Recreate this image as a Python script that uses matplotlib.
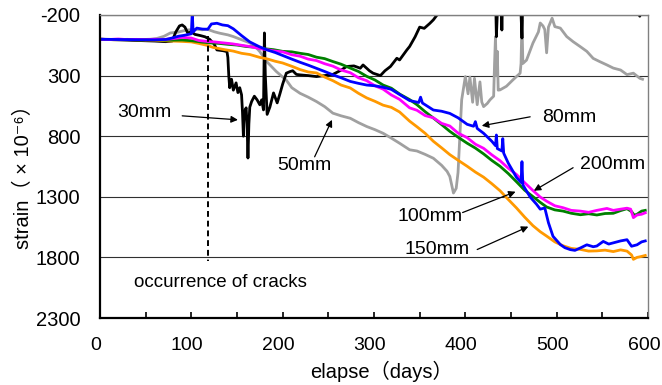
import matplotlib
matplotlib.use('Agg')
import matplotlib.pyplot as plt
import matplotlib.transforms as mtransforms
from matplotlib.ticker import MultipleLocator

# -------------------------------------------------------------
# Data: strain vs elapsed days for each depth
# -------------------------------------------------------------

d_30 = [0, 20, 40, 60, 72, 79, 83, 87, 90, 93, 96, 100, 104, 110, 115, 120, 125, 128, 135, 139,
        140, 141, 142, 144, 146, 149, 151, 153, 155, 156, 157, 158, 160, 161, 162, 163, 164, 166, 169, 172,
        175, 177, 179, 180, 181, 183, 186, 190, 194, 197, 200, 204, 208, 211, 215, 219, 228, 237, 246, 255,
        264, 270, 278, 285, 288, 295, 299, 307, 312, 318, 325, 328, 336, 339, 345, 350, 355, 361, 365, 369,
        375, 385, 400, 420, 433, 434, 436, 439, 440, 441, 460, 462, 463, 480, 520, 560, 585, 591, 593, 597]
s_30 = [0, 5, 10, 15, 20, 15, -60, -110, -118, -100, -52, -60, -40, -30, -20, 0, 40, 88, 95, 102,
        150, 300, 400, 330, 420, 360, 440, 400, 459, 600, 800, 600, 566, 700, 980, 700, 560, 514, 470, 500,
        541, 500, 583, -52, 300, 620, 560, 443, 525, 450, 370, 280, 267, 260, 290, 294, 300, 308, 300, 290,
        255, 225, 220, 239, 212, 260, 280, 300, 260, 225, 157, 171, 88, 60, -20, -100, -90, -130, -160, -200,
        -260, -320, -380, -400, -400, -21, -400, -400, -76, -400, -400, -10, -400, -400, -400, -400, -300, -190, -300, -350]

d_50 = [0, 20, 40, 55, 62, 70, 77, 85, 95, 105, 112, 117, 125, 131, 140, 146, 155, 164, 170, 175,
        183, 193, 204, 210, 219, 228, 237, 246, 255, 264, 274, 283, 292, 301, 310, 319, 328, 339, 347, 356,
        365, 374, 380, 383, 387, 390, 392, 394, 396, 400, 403, 405, 408, 410, 413, 416, 418, 420, 424, 427,
        431, 432, 433, 434, 435, 436, 438, 445, 452, 460, 461, 462, 463, 467, 474, 480, 482, 485, 487, 489,
        491, 495, 498, 504, 511, 518, 526, 533, 540, 547, 555, 562, 570, 577, 584, 591, 594]
s_50 = [0, 2, 4, 0, -6, -24, -52, -58, -76, -82, -78, -84, -62, -50, -36, -22, 4, 30, 60, 102,
        188, 266, 338, 400, 446, 478, 514, 556, 610, 632, 652, 688, 720, 746, 776, 816, 858, 912, 922, 950,
        982, 1040, 1090, 1132, 1269, 1230, 1100, 800, 500, 308, 450, 312, 520, 322, 540, 352, 518, 556, 530, 500,
        470, 200, -21, 300, 100, 420, 418, 388, 336, 280, 200, -159, 200, 172, 32, -60, -134, -110, -80, 112,
        -100, -174, -104, -92, -22, 20, 62, 100, 158, 184, 212, 238, 254, 292, 280, 322, 330]

d_80 = [0, 20, 40, 60, 72, 80, 86, 92, 97, 100, 101, 102, 106, 112, 118, 122, 128, 134, 140, 146,
        155, 164, 174, 183, 192, 200, 210, 219, 228, 237, 246, 255, 264, 274, 283, 292, 301, 310, 319, 328,
        339, 349, 351, 353, 365, 374, 383, 392, 402, 409, 411, 413, 420, 429, 433, 434, 435, 440, 441, 442,
        447, 456, 461, 462, 463, 471, 478, 482, 487, 491, 496, 504, 509, 515, 520, 526, 533, 540, 544, 551,
        557, 562, 570, 577, 582, 588, 593, 597]
s_80 = [0, 2, 4, 5, 2, -12, -25, -32, -40, -45, -220, -60, -92, -84, -82, -126, -132, -118, -112, -86,
        -30, 22, 60, 88, 110, 134, 164, 190, 214, 240, 266, 294, 318, 348, 364, 378, 384, 396, 414, 456,
        506, 522, 478, 526, 584, 594, 612, 648, 702, 718, 680, 736, 776, 842, 878, 790, 902, 922, 820, 940,
        1022, 1140, 1182, 1010, 1202, 1302, 1362, 1402, 1392, 1514, 1626, 1694, 1720, 1736, 1742, 1722, 1696, 1712, 1706, 1668,
        1690, 1680, 1664, 1654, 1708, 1696, 1672, 1664]

d_100 = [0, 15, 30, 45, 60, 75, 90, 100, 110, 120, 130, 140, 150, 160, 170, 180, 190, 200, 210, 219,
         228, 237, 246, 255, 264, 274, 283, 292, 301, 310, 319, 328, 339, 347, 356, 365, 374, 383, 392, 402,
         411, 420, 429, 438, 447, 456, 465, 474, 482, 489, 498, 507, 516, 526, 535, 544, 553, 562, 570, 577,
         582, 585, 588, 593, 597]
s_100 = [0, 3, 1, 6, 4, 8, 6, 12, 22, 30, 34, 42, 48, 60, 66, 78, 86, 100, 104, 116,
         126, 148, 160, 184, 206, 238, 266, 306, 336, 378, 404, 452, 498, 540, 598, 650, 704, 760, 808, 858,
         898, 946, 1000, 1048, 1108, 1176, 1246, 1298, 1346, 1384, 1408, 1418, 1436, 1448, 1440, 1450, 1438, 1436, 1414, 1398,
         1422, 1452, 1444, 1418, 1412]

d_150 = [0, 15, 30, 45, 60, 75, 90, 100, 109, 117, 124, 135, 146, 155, 164, 175, 183, 192, 200, 211,
         219, 228, 237, 246, 255, 264, 274, 283, 292, 301, 310, 319, 328, 339, 347, 356, 365, 374, 383, 392,
         402, 411, 420, 429, 438, 447, 456, 465, 474, 482, 489, 498, 507, 516, 526, 535, 544, 553, 562, 570,
         577, 582, 584, 588, 593, 597]
s_150 = [0, 4, 2, 6, 8, 14, 18, 22, 36, 50, 68, 84, 98, 116, 126, 150, 162, 182, 196, 226,
         250, 270, 278, 312, 342, 378, 402, 446, 484, 512, 544, 562, 600, 676, 722, 776, 842, 896, 952, 998,
         1048, 1096, 1138, 1192, 1250, 1322, 1392, 1468, 1538, 1588, 1624, 1672, 1704, 1726, 1734, 1748, 1746, 1740, 1752, 1738,
         1748, 1780, 1816, 1800, 1792, 1784]

d_200 = [0, 10, 20, 30, 40, 50, 60, 70, 80, 90, 100, 108, 117, 125, 135, 145, 155, 164, 175, 183,
         190, 200, 210, 219, 228, 237, 246, 255, 264, 274, 283, 292, 301, 310, 319, 328, 339, 347, 356, 365,
         374, 383, 392, 402, 411, 420, 429, 438, 447, 456, 465, 474, 482, 489, 498, 507, 516, 526, 535, 544,
         555, 562, 570, 577, 581, 584, 588, 593, 597]
s_200 = [0, 2, -2, 3, 1, 4, 0, 2, -5, -15, -10, 10, 18, 22, 30, 38, 50, 60, 78, 86,
         96, 104, 128, 140, 164, 176, 202, 222, 254, 276, 318, 342, 384, 412, 460, 496, 566, 586, 630, 648,
         694, 716, 774, 812, 866, 900, 954, 1002, 1064, 1116, 1184, 1248, 1302, 1336, 1374, 1390, 1412, 1418, 1428, 1412,
         1396, 1412, 1402, 1394, 1402, 1472, 1450, 1444, 1432]

y_ticks = [-200, 300, 800, 1300, 1800, 2300]
crack_day = 118

# -------------------------------------------------------------
# Figure
# -------------------------------------------------------------

plt.rcParams['font.family'] = ['Liberation Sans', 'Noto Sans CJK JP', 'DejaVu Sans']
plt.rcParams['axes.unicode_minus'] = False

fig = plt.figure(figsize=(6.62, 3.85), dpi=100)
ax = fig.add_axes([100 / 662, 67 / 385, 548 / 662, 303 / 385])

# gray under the rest, blue on top
serier = [
    (d_50, s_50, '#a0a0a0'),
    (d_30, s_30, '#000000'),
    (d_150, s_150, '#ff9900'),
    (d_100, s_100, '#008000'),
    (d_200, s_200, '#ff00ff'),
    (d_80, s_80, '#0000ff'),
]
for d, s, c in serier:
    ax.plot(d, s, color=c, lw=2.0, solid_joinstyle='round')

# crack line
ax.plot([crack_day, crack_day], [-30, 1830], color='black', lw=1.4, ls=(0, (3, 2)))
ax.text(132, 2008, 'occurrence of cracks', fontsize=13.5, ha='center', va='center')

# labels with arrows
pilar = [
    ('30mm', (49, 607), (90, 632), (151, 665)),
    ('50mm', (224, 1044), (235, 970), (254, 665)),
    ('80mm', (514, 648), (471, 640), (418, 714)),
    ('200mm', (561, 1036), (518, 1060), (475, 1250)),
    ('100mm', (361, 1464), (397, 1430), (455, 1258)),
    ('150mm', (369, 1736), (413, 1735), (469, 1546)),
]
for txt, pos, tail, tip in pilar:
    ax.text(pos[0], pos[1], txt, fontsize=14, ha='center', va='center')
    ax.annotate('', xy=tip, xytext=tail,
                arrowprops=dict(arrowstyle='-|>', lw=0.9, color='black', mutation_scale=10,
                                shrinkA=0, shrinkB=0))

ax.set_xlim(0, 600)
ax.set_ylim(2300, -200)
ax.set_yticks(y_ticks)
ax.xaxis.set_major_locator(MultipleLocator(100))
ax.xaxis.set_minor_locator(MultipleLocator(50))
ax.tick_params(axis='x', which='both', direction='in', length=4, width=1.2, labelsize=14, pad=14)
ax.tick_params(axis='y', length=0, labelsize=14.5, pad=14)

# x tick labels sit a few pixels left of their ticks
skift = mtransforms.ScaledTranslation(-3 / 72, 0, fig.dpi_scale_trans)
for lbl in ax.get_xticklabels():
    lbl.set_transform(lbl.get_transform() + skift)

ax.grid(axis='y', color='#303030', lw=0.8)
ax.set_axisbelow(True)

ax.spines['left'].set_linewidth(1.6)
ax.spines['bottom'].set_linewidth(1.6)
ax.spines['top'].set_color('#808080')
ax.spines['right'].set_color('#808080')
ax.spines['top'].set_linewidth(1.0)
ax.spines['right'].set_linewidth(1.0)

ax.set_xlabel('elapse（days）', fontsize=14.5)
ax.set_ylabel('strain（ × 10⁻⁶）', fontsize=14.5)
ax.xaxis.set_label_coords(0.513, -0.14)
ax.yaxis.set_label_coords(-0.122, 0.48)

fig.savefig('out.png', dpi=100)
